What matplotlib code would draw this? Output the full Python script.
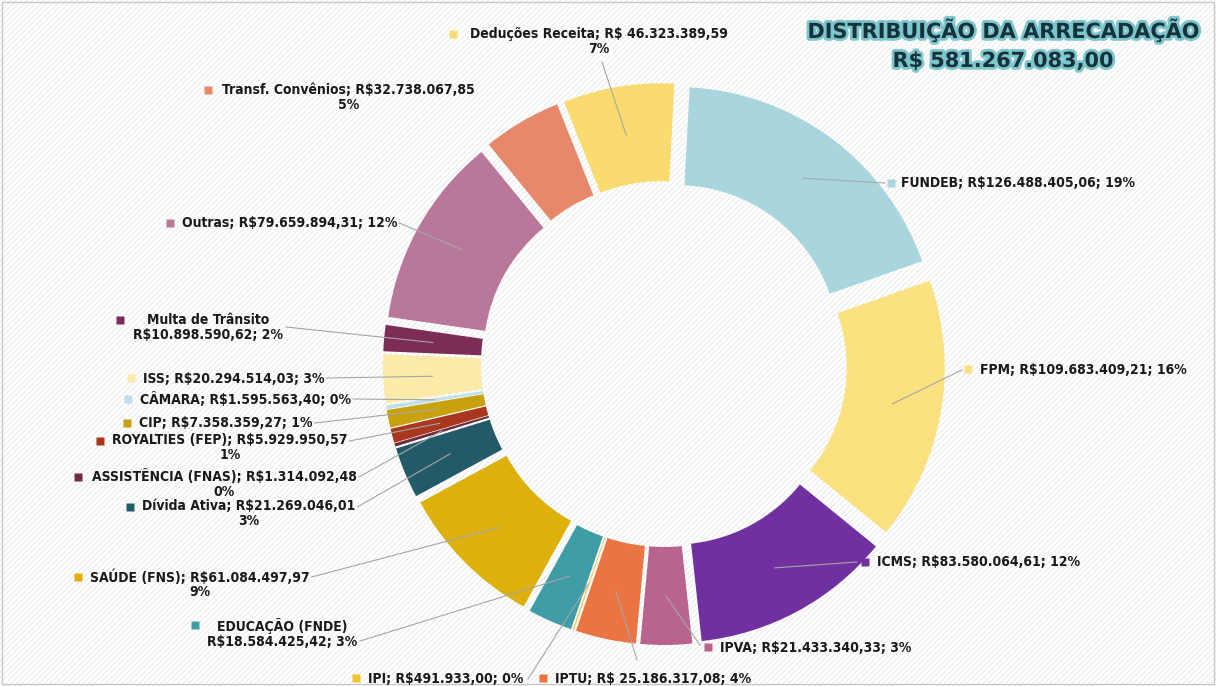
import numpy as np
import matplotlib.pyplot as plt
import matplotlib.patheffects as pe
from matplotlib.patches import Rectangle
from matplotlib import font_manager

# data
categorias = ["FUNDEB", "FPM", "ICMS", "IPVA", "IPTU", "IPI",
              "EDUCAÇÃO (FNDE)", "SAÚDE (FNS)", "Dívida Ativa",
              "ASSISTÊNCIA (FNAS)", "ROYALTIES (FEP)", "CIP", "CÂMARA",
              "ISS", "Multa de Trânsito", "Outras", "Transf. Convênios",
              "Deduções Receita"]
valores = [126488405.06, 109683409.21, 83580064.61, 21433340.33,
           25186317.08, 491933.00, 18584425.42, 61084497.97, 21269046.01,
           1314092.48, 5929950.57, 7358359.27, 1595563.40, 20294514.03,
           10898590.62, 79659894.31, 32738067.85, 46323389.59]
cores = ["#A9D6DE", "#FBE17F", "#7030A0", "#B9648E", "#EA7442", "#F2C531",
         "#3E9DA6", "#DDB00C", "#235A67", "#6E2C40", "#A9371D", "#C8A10E",
         "#BFE1E7", "#FCEAA8", "#7C2C55", "#B9789A", "#E8886B", "#F9DB6F"]
titulo = "DISTRIBUIÇÃO DA ARRECADAÇÃO"
subtitulo = "R$ 581.267.083,00"

W, H = 1216, 686


def Y(y):
    return H - y


def brl(v):
    s = f"{v:,.2f}"
    return s.replace(",", "X").replace(".", ",").replace("X", ".")


total = sum(valores)
pcts = [f"{round(v / total * 100):.0f}%" for v in valores]
espaco = {"IPTU": " ", "Deduções Receita": " "}

# label layout: marker pos, text pos, style, leader start ('auto' = end of text)
# style: 'one' single line, 'two' value+pct second line, 'stack' name / value; pct
layout = {
    "Deduções Receita": ((453, 34), (470, 27), "two", (602, 62)),
    "Transf. Convênios": ((208, 90), (222, 83), "two", None),
    "FUNDEB": ((891, 183), (901, 183), "one", (885, 183)),
    "Outras": ((170, 223), (182, 223), "one", "auto"),
    "Multa de Trânsito": ((120, 320), (133, 313), "stack", (286, 327)),
    "FPM": ((968, 369), (980, 370), "one", (962, 370)),
    "ISS": ((131, 378), (143, 379), "one", "auto"),
    "CÂMARA": ((128, 399), (140, 400), "one", "auto"),
    "CIP": ((127, 423), (139, 423), "one", "auto"),
    "ROYALTIES (FEP)": ((100, 441), (112, 433), "two", "auto"),
    "ASSISTÊNCIA (FNAS)": ((78, 477), (92, 469), "two", "auto"),
    "Dívida Ativa": ((130, 507), (142, 499), "two", "auto"),
    "SAÚDE (FNS)": ((78, 577), (90, 569), "two", "auto"),
    "EDUCAÇÃO (FNDE)": ((195, 625), (207, 618), "stack", (360, 641)),
    "IPI": ((356, 678), (368, 679), "one", (528, 679)),
    "IPTU": ((543, 678), (555, 679), "one", (637, 660)),
    "IPVA": ((708, 647), (720, 648), "one", (700, 645)),
    "ICMS": ((865, 562), (877, 562), "one", (857, 562)),
}

instaladas = {f.name for f in font_manager.fontManager.ttflist}
if "Liberation Sans Narrow" in instaladas:
    fonte_titulo, tam_titulo = "Liberation Sans Narrow", 19
else:
    fonte_titulo, tam_titulo = "DejaVu Sans", 15

plt.rcParams['hatch.linewidth'] = 0.5
fig = plt.figure(figsize=(W / 100, H / 100), dpi=100)
fig.patches.append(Rectangle((0, 0), 1, 1, transform=fig.transFigure,
                             facecolor='white', edgecolor='#e2e2e2',
                             hatch='//////', lw=0, zorder=-2))
fig.patches.append(Rectangle((0.002, 0.003), 0.996, 0.994,
                             transform=fig.transFigure, fill=False,
                             edgecolor='#c8c8c8', lw=1, zorder=-1))

ax = fig.add_axes([0, 0, 1, 1])
ax.patch.set_alpha(0)

cx, cy = 664, Y(364)
raio, largura, expl = 261, 98, 20
wedges, _ = ax.pie(valores, colors=cores, startangle=87, counterclock=False,
                   radius=raio, center=(cx, cy), explode=[expl] * len(valores),
                   wedgeprops=dict(width=largura, linewidth=0))
ax.set_xlim(0, W)
ax.set_ylim(0, H)
ax.set_aspect('equal')
ax.axis('off')

fonte = dict(family='DejaVu Sans', fontstretch='condensed', weight='bold',
             fontsize=10, color='#1a1a1a')

textos = []
for w, nome, v, p, cor in zip(wedges, categorias, valores, pcts, cores):
    (mx, my), (tx, ty), estilo, lead = layout[nome]
    val = "R$" + espaco.get(nome, "") + brl(v)
    if estilo == "one":
        t = ax.text(tx, Y(ty), f"{nome}; {val}; {p}", ha='left', va='center', **fonte)
    elif estilo == "two":
        t = ax.text(tx, Y(ty), f"{nome}; {val}\n{p}", ha='left', va='top',
                    multialignment='center', linespacing=1.05, **fonte)
    else:
        t = ax.text(tx, Y(ty), f"{nome}\n{val}; {p}", ha='left', va='top',
                    multialignment='center', linespacing=1.05, **fonte)
    ax.plot(mx, Y(my), marker='s', ms=5.5, color=cor, mec='none')
    textos.append((w, t, my, lead))

# leader lines from the label to the middle of each wedge
fig.canvas.draw()
for w, t, my, lead in textos:
    if lead is None:
        continue
    if lead == "auto":
        bb = t.get_window_extent()
        x0, y0 = bb.x1 + 2, Y(my)
    else:
        x0, y0 = lead[0], Y(lead[1])
    ang = np.deg2rad((w.theta1 + w.theta2) / 2)
    rm = w.r - w.width / 2
    wx = w.center[0] + rm * np.cos(ang)
    wy = w.center[1] + rm * np.sin(ang)
    ax.plot([x0, wx], [y0, wy], color='#a6a6a6', lw=0.8, zorder=3)

efeito = [pe.withStroke(linewidth=4, foreground='#7cc5cc')]
for texto, yy in [(titulo, 30), (subtitulo, 61)]:
    ax.text(1003, Y(yy), texto, ha='center', va='center', fontsize=tam_titulo,
            family=fonte_titulo, weight='bold', color='#16323a',
            path_effects=efeito)

fig.savefig("out.png", dpi=100)
